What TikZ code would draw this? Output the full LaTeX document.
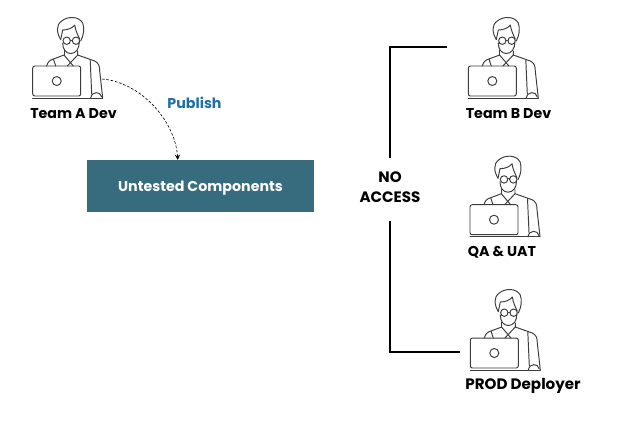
\documentclass[tikz,border=0pt]{standalone}
\usepackage{fontspec}
\setmainfont{Poppins}
\definecolor{boxteal}{HTML}{376C7E}
\definecolor{pubblue}{HTML}{1F6FA6}
\definecolor{iconline}{HTML}{3C3C3C}
\tikzset{
  labelfont/.style={font=\fontsize{8.1pt}{10pt}\selectfont\bfseries,inner sep=0pt},
  labeltext/.style={labelfont,text=black},
  widetext/.style={labeltext,font=\fontsize{8.6pt}{10pt}\selectfont\bfseries},
  iconstroke/.style={draw=iconline,line width=.55pt,line join=round,line cap=round},
  devguy/.pic={
    \node (-laptop) [iconstroke,rounded corners=1.2pt,minimum width=.96cm,minimum height=.6cm,inner sep=0pt] at (0,0) {};
    \draw[iconstroke] (0,0) circle [radius=4.5];
    \draw[iconstroke] (-24,17) -- (46,17);
    % body
    \draw[iconstroke] (-10,-15) .. controls (-9,-19) and (-7,-21) .. (-3.3,-22) -- (7.3,-26) -- (16.6,-15);
    \draw[iconstroke] (21,-26) -- (10.6,-15);
    \draw[iconstroke] (-3.3,-22) -- (-1,-15);
    \draw[iconstroke] (7.3,-31) -- (7.3,-26);
    \draw[iconstroke] (21,-30) -- (21,-26) -- (38,-20) .. controls (42,-18) and (43,-15) .. (43,-10) -- (46,17);
    \draw[iconstroke] (33.5,-21) -- (35,13);
    \draw[iconstroke] (34,17) .. controls (35,10) and (44,10) .. (45,16);
    % head
    \draw[iconstroke] (6,-38) .. controls (6,-32) and (9,-27.5) .. (14,-27.5) .. controls (19,-27.5) and (22.6,-32) .. (22.6,-39);
    \draw[iconstroke] (4,-41.5) .. controls (0,-48) and (-1,-56) .. (5,-60) .. controls (11,-65) and (22,-65) .. (26,-58) .. controls (28,-52) and (27,-46) .. (24,-40);
    \draw[iconstroke] (4,-41.5) -- (6,-51) .. controls (11,-51) and (16,-53) .. (18,-56) .. controls (19,-50) and (21,-46) .. (23,-42);
    % glasses
    \draw[iconstroke] (10,-40.3) circle [radius=3.7];
    \draw[iconstroke] (19.3,-40.3) circle [radius=3.7];
    \draw[iconstroke] (13.7,-41) -- (15.6,-41);
  }
}
\begin{document}
\begin{tikzpicture}[x=.02cm,y=-.02cm]
  \useasboundingbox (0,0) rectangle (631,424);

  \pic (teamA) at (56.7,81) {devguy};
  \pic (teamB) at (492.3,81) {devguy};
  \pic (qauat) at (494,219.7) {devguy};
  \pic (prod) at (494.3,353) {devguy};

  \node (lblA) [labeltext] at (73.5,114) {Team A Dev};
  \node (lblB) [labeltext] at (508.5,114) {Team B Dev};
  \node (lblQ) [labeltext] at (502,252.5) {QA \& UAT};
  \node (lblP) [widetext] at (523,386) {PROD Deployer};

  \node (untested) [labelfont,fill=boxteal,text=white,minimum width=4.54cm,minimum height=1.03cm] at (200.5,186) {\raisebox{-3.4pt}[0pt][0pt]{Untested Components}};
  \node (publish) [labelfont,text=pubblue] at (194.5,103) {Publish};
  \node (noaccess) [widetext,align=center,minimum height=1.25cm] at (390,189.8) {NO\\[1.3pt]ACCESS\\[-7.4pt]};

  \coordinate (armA) at (102,79);
  \coordinate (endB) at (447,47);
  \coordinate (endP) at (460,351.5);

  \draw[-stealth,dashed,line width=.35pt,dash pattern=on 1.5pt off 1pt] (armA) .. controls (140,82) and (175,120) .. (untested.131);
  \foreach \from/\to in {noaccess.north/endB,noaccess.south/endP}
    \draw[line width=1.15pt,line cap=butt] (\from) |- (\to);
\end{tikzpicture}
\end{document}
